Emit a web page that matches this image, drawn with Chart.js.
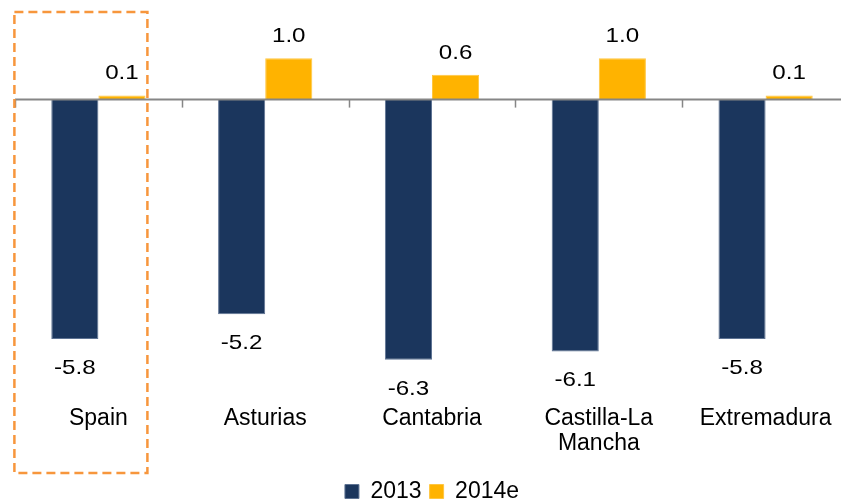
<!DOCTYPE html>
<html>
<head>
<meta charset="utf-8">
<script src="https://cdn.jsdelivr.net/npm/chart.js@4"></script>
<style>
  html, body { margin: 0; padding: 0; background: #fff; overflow: hidden; }
  #wrap { width: 858px; height: 502px; }
</style>
</head>
<body>
<div id="wrap"><canvas id="myChart" width="858" height="502"></canvas></div>
<script>
// データ
const regions = ['Spain', 'Asturias', 'Cantabria', ['Castilla-La', 'Mancha'], 'Extremadura'];
const values2013 = [-5.8, -5.2, -6.3, -6.1, -5.8];
const values2014e = [0.1, 1.0, 0.6, 1.0, 0.1];
const seriesNames = ['2013', '2014e'];

const FONT = 'Liberation Sans, Arial, sans-serif';

// ゼロ線とカテゴリ境界の目盛り
const zeroAxis = {
    id: 'zeroAxis',
    afterDatasetsDraw(chart) {
        const { ctx, scales: { x, y }, chartArea } = chart;
        const y0 = y.getPixelForValue(0);
        const n = regions.length;
        const step = (x.getPixelForValue(1) - x.getPixelForValue(0));
        ctx.save();
        ctx.strokeStyle = '#868686';
        ctx.lineWidth = 2;
        ctx.beginPath();
        ctx.moveTo(chartArea.left, y0);
        ctx.lineTo(chartArea.right, y0);
        ctx.stroke();
        ctx.lineWidth = 1.5;
        for (let i = 0; i <= n; i++) {
            const px = Math.round(x.getPixelForValue(0) - step / 2 + i * step) + 0.5;
            ctx.beginPath();
            ctx.moveTo(px, y0);
            ctx.lineTo(px, y0 + 8);
            ctx.stroke();
        }
        ctx.restore();
    }
};

// バーの値ラベル（元画像は少し横に広いフォント）
const valueLabels = {
    id: 'valueLabels',
    afterDatasetsDraw(chart) {
        const { ctx } = chart;
        ctx.save();
        ctx.font = '21px ' + FONT;
        ctx.fillStyle = '#000';
        ctx.textAlign = 'center';
        ctx.textBaseline = 'alphabetic';
        chart.data.datasets.forEach((ds, i) => {
            chart.getDatasetMeta(i).data.forEach((bar, j) => {
                const v = ds.data[j];
                const ty = v >= 0 ? bar.y - 16 : bar.y + 35;
                ctx.save();
                ctx.translate(bar.x, ty);
                ctx.scale(1.15, 1);
                ctx.fillText(v.toFixed(1), 0, 0);
                ctx.restore();
            });
        });
        ctx.restore();
    }
};

// スペインを囲む点線の枠
const spainBox = {
    id: 'spainBox',
    afterDraw(chart) {
        const { ctx, scales: { x } } = chart;
        const cx = x.getPixelForValue(0);
        ctx.save();
        ctx.strokeStyle = '#F7963C';
        ctx.lineWidth = 2.5;
        ctx.setLineDash([9, 5]);
        ctx.strokeRect(cx - 84, 12, 133, 461);
        ctx.restore();
    }
};

const ctx = document.getElementById('myChart').getContext('2d');
new Chart(ctx, {
    type: 'bar',
    data: {
        labels: regions,
        datasets: [
            {
                label: seriesNames[0],
                data: values2013,
                backgroundColor: '#1B365D',
                borderColor: '#5E7393',
                borderWidth: 1,
                categoryPercentage: 0.565,
                barPercentage: 1.0
            },
            {
                label: seriesNames[1],
                data: values2014e,
                backgroundColor: '#FFB300',
                borderColor: '#FFC640',
                borderWidth: 1,
                categoryPercentage: 0.565,
                barPercentage: 1.0
            }
        ]
    },
    options: {
        responsive: false,
        animation: false,
        layout: { padding: { left: 15, right: 9, top: 17, bottom: -11 } },
        plugins: {
            tooltip: { enabled: false },
            legend: {
                position: 'bottom',
                labels: {
                    font: { family: FONT, size: 23 },
                    color: '#000',
                    boxWidth: 14,
                    boxHeight: 14,
                    padding: 8
                }
            }
        },
        scales: {
            x: {
                grid: { display: false, drawTicks: false },
                border: { display: false },
                ticks: {
                    font: { family: FONT, size: 23, lineHeight: 1.1 },
                    color: '#000',
                    padding: 5,
                    maxRotation: 0,
                    autoSkip: false
                },
                afterFit(scale) { scale.height = 71; }
            },
            y: {
                display: false,
                min: -7.3,
                max: 2.0
            }
        }
    },
    plugins: [zeroAxis, valueLabels, spainBox]
});
</script>
</body>
</html>
